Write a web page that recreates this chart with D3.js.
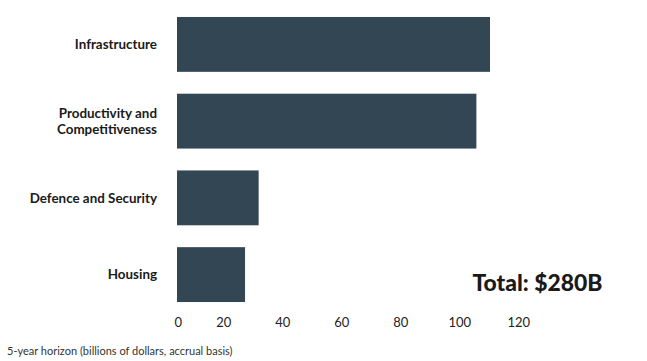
<!DOCTYPE html>
<html><head><meta charset="utf-8">
<script src="https://cdn.jsdelivr.net/npm/d3@7"></script>
<style>
body{margin:0;background:#fff;}
svg{display:block;font-family:Lato,"Noto Sans",sans-serif;}
</style></head>
<body>
<svg id="chart" width="647" height="361"></svg>
<script>
const categories = [["Infrastructure"], ["Productivity and", "Competitiveness"], ["Defence and Security"], ["Housing"]];
const values = [115, 110, 30, 25];
const tickValues = [0, 20, 40, 60, 80, 100, 120];
const totalLabel = "Total: $280B";
const footnote = "5-year horizon (billions of dollars, accrual basis)";

const svg = d3.select("#chart");
const names = categories.map(c => c.join(" "));

const x = d3.scaleLinear().domain([0, 115]).range([177, 490]);
const y = d3.scaleBand().domain(names).range([6, 313]).paddingInner(0.285).paddingOuter(0.143);

svg.append("g").selectAll("rect").data(values).join("rect")
  .attr("x", x(0))
  .attr("y", (d, i) => y(names[i]))
  .attr("width", d => x(d) - x(0))
  .attr("height", y.bandwidth())
  .attr("fill", "#334654");

const lab = svg.append("g").selectAll("text").data(categories).join("text")
  .attr("x", 157)
  .attr("text-anchor", "end")
  .attr("font-size", 13.4)
  .attr("font-weight", 700)
  .attr("fill", "#1a1a1a");
lab.each(function(lines, i) {
  const cy = y(names[i]) + y.bandwidth() / 2;
  const lh = 16;
  const start = cy - (lines.length - 1) * lh / 2;
  d3.select(this).selectAll("tspan").data(lines).join("tspan")
    .attr("x", 157)
    .attr("y", (d, j) => start + j * lh)
    .attr("dy", "0.35em")
    .text(d => d);
});

// axis labels (the original spaces 20..120 evenly, with 0 at the bars' origin)
const xa = d3.scaleLinear().domain([20, 120]).range([223.3, 518.3]);
const axis = d3.axisBottom(xa).tickValues(tickValues).tickSize(0).tickPadding(0);
const ag = svg.append("g").attr("transform", "translate(0,318)").call(axis);
ag.select(".domain").remove();
ag.selectAll(".tick").filter(d => d === 0).attr("transform", `translate(${x(0) + 1.3},0)`);
ag.selectAll("text").attr("font-family", "Lato, sans-serif").attr("font-size", 13).attr("fill", "#222").attr("dy", "0.71em").attr("y", 0);

svg.append("text").attr("x", 537.5).attr("y", 283).attr("dy", "0.35em")
  .attr("text-anchor", "middle").attr("font-size", 22.9).attr("font-weight", 900)
  .attr("fill", "#1a1a1a").text(totalLabel);

svg.append("text").attr("x", 7).attr("y", 351).attr("dy", "0.35em")
  .attr("font-size", 11).attr("fill", "#333").text(footnote);
</script>
</body></html>
